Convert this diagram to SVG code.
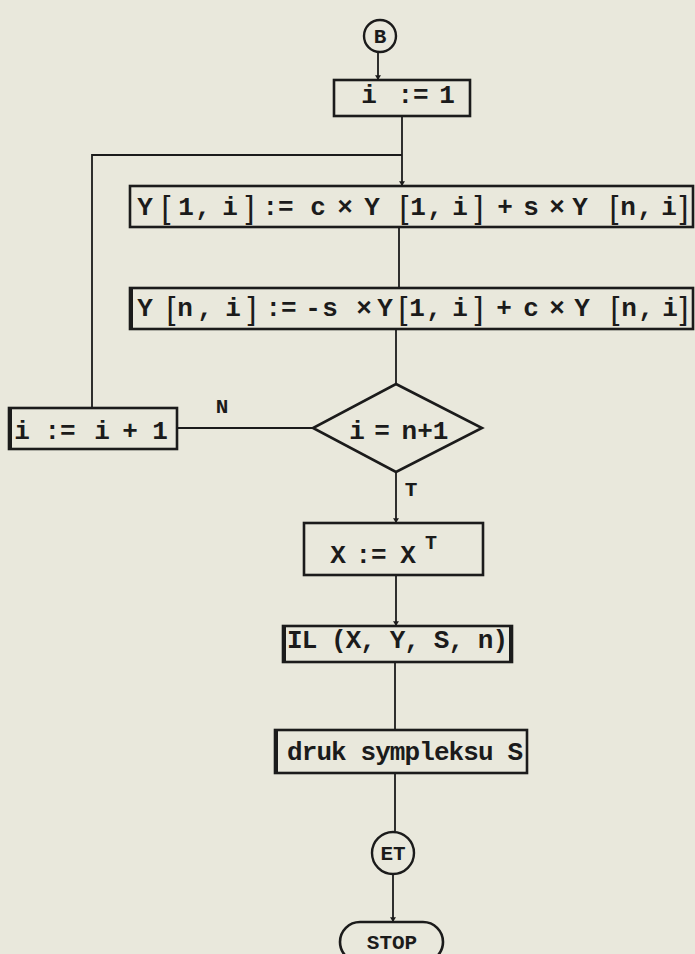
<svg xmlns="http://www.w3.org/2000/svg" width="695" height="954" viewBox="0 0 695 954">
  <style>
    .bg { fill: #e9e8dc; }
    .box { fill: none; stroke: #1b1b1b; stroke-width: 2.6; }
    .thick { stroke: #1b1b1b; stroke-width: 4; }
    .line { fill: none; stroke: #1b1b1b; stroke-width: 1.8; }
    .t { font-family: "Liberation Mono", "DejaVu Sans Mono", monospace; font-weight: bold; font-size: 26px; fill: #1b1b1b; text-anchor: middle; }
    .ts { font-family: "Liberation Mono", "DejaVu Sans Mono", monospace; font-weight: bold; font-size: 26px; fill: #1b1b1b; text-anchor: start; }
    .br { font-family: "Liberation Sans", Arial, sans-serif; font-weight: normal; font-size: 32px; }
    .lbl { font-family: "Liberation Mono", "DejaVu Sans Mono", monospace; font-weight: bold; font-size: 21px; fill: #1b1b1b; text-anchor: middle; }
  </style>
  <defs>
    <marker id="arr" viewBox="0 0 8 10" refX="8" refY="5" markerWidth="5" markerHeight="6" orient="auto" markerUnits="userSpaceOnUse">
      <path d="M0,0 L8,5 L0,10 Z" fill="#1b1b1b"/>
    </marker>
  </defs>

  <rect class="bg" x="0" y="0" width="695" height="954"/>

  <!-- connectors -->
  <g id="connectors">
    <path class="line" d="M378,53 V80" marker-end="url(#arr)"/>
    <path class="line" d="M402,116 V186" marker-end="url(#arr)"/>
    <path class="line" d="M92,408 V155 H402"/>
    <path class="line" d="M399,227 V288"/>
    <path class="line" d="M396,329 V384"/>
    <path class="line" d="M313,428 H177"/>
    <path class="line" d="M396,472 V523" marker-end="url(#arr)"/>
    <path class="line" d="M396,575 V626" marker-end="url(#arr)"/>
    <path class="line" d="M395,662 V730"/>
    <path class="line" d="M395,773 V831"/>
    <path class="line" d="M393,875 V922" marker-end="url(#arr)"/>
    <text class="lbl" x="222" y="413">N</text>
    <text class="lbl" x="411" y="496">T</text>
  </g>

  <!-- connector B -->
  <g id="conn-B">
    <circle cx="380" cy="36" r="16" fill="none" stroke="#1b1b1b" stroke-width="2.4"/>
    <text class="lbl" x="380" y="43">B</text>
  </g>

  <!-- i := 1 -->
  <g id="init">
    <rect class="box" x="334" y="80" width="136" height="36"/>
    <text class="t" y="103"><tspan x="369">i</tspan><tspan x="413">:=</tspan><tspan x="447">1</tspan></text>
  </g>

  <!-- Y[1,i] update -->
  <g id="upd-row1">
    <rect class="box" x="130" y="186" width="563" height="41"/>
    <text class="t" y="215"><tspan x="145">Y</tspan><tspan class="br" x="166" y="218">[</tspan><tspan x="186" y="215">1</tspan><tspan x="203">,</tspan><tspan x="230">i</tspan><tspan class="br" x="250" y="218">]</tspan><tspan x="278" y="215">:=</tspan><tspan x="318">c</tspan><tspan x="345">×</tspan><tspan x="372">Y</tspan><tspan class="br" x="404" y="218">[</tspan><tspan x="418" y="215">1</tspan><tspan x="435">,</tspan><tspan x="460">i</tspan><tspan class="br" x="479" y="218">]</tspan><tspan x="505" y="215">+</tspan><tspan x="531">s</tspan><tspan x="557">×</tspan><tspan x="580">Y</tspan><tspan class="br" x="614" y="218">[</tspan><tspan x="628" y="215">n</tspan><tspan x="645">,</tspan><tspan x="669">i</tspan><tspan class="br" x="684" y="218">]</tspan></text>
  </g>

  <!-- Y[n,i] update -->
  <g id="upd-rown">
    <rect class="box" x="130" y="288" width="563" height="41"/>
    <line class="thick" x1="131" y1="288" x2="131" y2="329"/>
    <text class="t" y="316"><tspan x="145">Y</tspan><tspan class="br" x="171" y="319">[</tspan><tspan x="185" y="316">n</tspan><tspan x="205">,</tspan><tspan x="233">i</tspan><tspan class="br" x="252" y="319">]</tspan><tspan x="281" y="316">:=</tspan><tspan x="313">-</tspan><tspan x="330">s</tspan><tspan x="364">×</tspan><tspan x="385">Y</tspan><tspan class="br" x="403" y="319">[</tspan><tspan x="417" y="316">1</tspan><tspan x="434">,</tspan><tspan x="460">i</tspan><tspan class="br" x="479" y="319">]</tspan><tspan x="504" y="316">+</tspan><tspan x="531">c</tspan><tspan x="557">×</tspan><tspan x="582">Y</tspan><tspan class="br" x="615" y="319">[</tspan><tspan x="629" y="316">n</tspan><tspan x="646">,</tspan><tspan x="670">i</tspan><tspan class="br" x="684" y="319">]</tspan></text>
  </g>

  <!-- decision i = n+1 -->
  <g id="decision">
    <path class="box" d="M396,384 L482,428 L396,472 L313,428 Z"/>
    <text class="t" y="439"><tspan x="357">i</tspan><tspan x="382">=</tspan><tspan x="425">n+1</tspan></text>
  </g>

  <!-- i := i + 1 -->
  <g id="increment">
    <rect class="box" x="9" y="408" width="168" height="41"/>
    <line class="thick" x1="10" y1="408" x2="10" y2="449"/>
    <text class="t" y="439"><tspan x="22">i</tspan><tspan x="60">:=</tspan><tspan x="102">i</tspan><tspan x="130">+</tspan><tspan x="160">1</tspan></text>
  </g>

  <!-- X := X^T -->
  <g id="transpose">
    <rect class="box" x="304" y="523" width="179" height="52"/>
    <text class="t" y="563"><tspan x="338">X</tspan><tspan x="371">:=</tspan><tspan x="408">X</tspan><tspan x="431" y="549" font-size="20">T</tspan></text>
  </g>

  <!-- IL (X, Y, S, n) -->
  <g id="call-IL">
    <rect class="box" x="283" y="626" width="229" height="36"/>
    <line class="thick" x1="284" y1="626" x2="284" y2="662"/>
    <line class="thick" x1="511" y1="626" x2="511" y2="662"/>
    <text class="ts" x="287" y="648" textLength="221" lengthAdjust="spacing">IL (X, Y, S, n)</text>
  </g>

  <!-- print simplex -->
  <g id="print">
    <rect class="box" x="275" y="730" width="252" height="43"/>
    <line class="thick" x1="276" y1="730" x2="276" y2="773"/>
    <text class="ts" x="287" y="760" textLength="236" lengthAdjust="spacing">druk sympleksu S</text>
  </g>

  <!-- connector ET -->
  <g id="conn-ET">
    <circle cx="393" cy="853" r="21" fill="none" stroke="#1b1b1b" stroke-width="2.4"/>
    <text class="lbl" x="393" y="860">ET</text>
  </g>

  <!-- STOP terminal -->
  <g id="stop">
    <rect class="box" x="340" y="922" width="103" height="40" rx="20"/>
    <text class="lbl" x="392" y="949">STOP</text>
  </g>
</svg>
